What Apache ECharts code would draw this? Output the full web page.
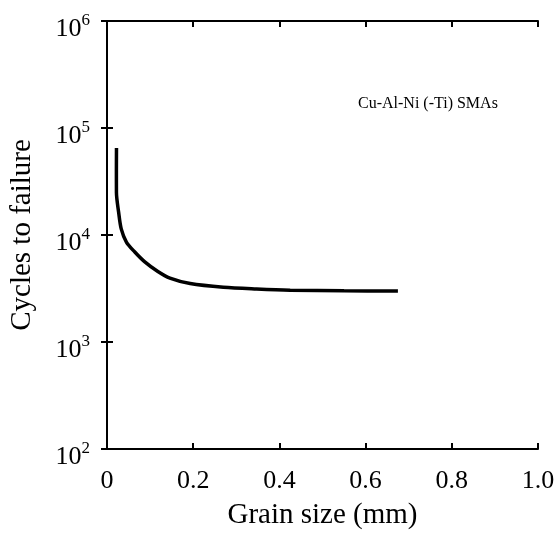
<!DOCTYPE html>
<html>
<head>
<meta charset="utf-8">
<script src="https://cdn.jsdelivr.net/npm/echarts@6/dist/echarts.min.js"></script>
<style>
  html, body { margin: 0; padding: 0; background: #fff; }
  #chart { width: 559px; height: 535px; }
</style>
</head>
<body>
<div id="chart"></div>
<script>
// Grain size (mm)
const grainSize = [0.0220, 0.0218, 0.0219, 0.027, 0.033, 0.045, 0.064, 0.087, 0.118, 0.146, 0.193, 0.270, 0.347, 0.425, 0.550, 0.675];
// Cycles to failure
const cycles    = [65000, 40000, 24900, 16300, 11400, 8600, 6970, 5640, 4560, 3960, 3520, 3250, 3130, 3050, 3010, 3000];
const xTickLabels = ['0', '0.2', '0.4', '0.6', '0.8', '1.0'];
const yTickExponents = [2, 3, 4, 5, 6];
const annotation = 'Cu-Al-Ni (-Ti) SMAs';
const xTitle = 'Grain size (mm)';
const yTitle = 'Cycles to failure';

const serif = '"Liberation Serif", "Times New Roman", serif';
const data = grainSize.map((g, i) => [g, cycles[i]]);

const chart = echarts.init(document.getElementById('chart'), null, { renderer: 'canvas' });
const axisLine = { show: true, lineStyle: { color: '#000', width: 2 } };
const axisTick = { show: true, inside: true, length: 6, lineStyle: { color: '#000', width: 2 } };

chart.setOption({
  backgroundColor: '#fff',
  animation: false,
  grid: { left: 107, right: 21, top: 21, bottom: 80 },
  xAxis: [
    {
      type: 'value', min: 0, max: 1, interval: 0.2,
      axisLine, axisTick, splitLine: { show: false },
      axisLabel: {
        color: '#000', fontFamily: serif, fontSize: 26, margin: 19,
        formatter: v => xTickLabels[Math.round(v / 0.2)]
      },
      name: xTitle, nameLocation: 'middle', nameGap: 52,
      nameTextStyle: { color: '#000', fontFamily: serif, fontSize: 29 }
    },
    {
      type: 'value', min: 0, max: 1, interval: 0.2, position: 'top',
      axisLine, axisTick, splitLine: { show: false }, axisLabel: { show: false }
    }
  ],
  yAxis: [
    {
      type: 'log', logBase: 10, min: 100, max: 1000000,
      axisLine, axisTick, splitLine: { show: false }, minorTick: { show: false },
      axisLabel: {
        color: '#000', fontFamily: serif, margin: 17, padding: [13, 0, 0, 0],
        formatter: v => {
          const e = Math.round(Math.log10(v));
          return yTickExponents.includes(e) ? '{b|10}{s|' + e + '}' : '';
        },
        rich: {
          b: { fontFamily: serif, fontSize: 26, color: '#000', verticalAlign: 'bottom', lineHeight: 30, padding: [8, 0, 0, 0] },
          s: { fontFamily: serif, fontSize: 17, color: '#000', verticalAlign: 'top', lineHeight: 30, padding: [0, 0, 8, 0] }
        }
      },
      name: yTitle, nameLocation: 'middle', nameGap: 70,
      nameTextStyle: { color: '#000', fontFamily: serif, fontSize: 29 }
    },
    {
      type: 'log', logBase: 10, min: 100, max: 1000000, position: 'right',
      axisLine, axisTick, splitLine: { show: false }, axisLabel: { show: false }
    }
  ],
  graphic: [
    {
      type: 'text', left: 358, top: 96,
      style: { text: annotation, fontFamily: serif, fontSize: 16, fill: '#000' }
    }
  ],
  series: [
    {
      type: 'line', data, xAxisIndex: 0, yAxisIndex: 0,
      smooth: 0.3, showSymbol: false, symbol: 'none',
      lineStyle: { color: '#000', width: 3.5 }
    }
  ]
});
</script>
</body>
</html>
